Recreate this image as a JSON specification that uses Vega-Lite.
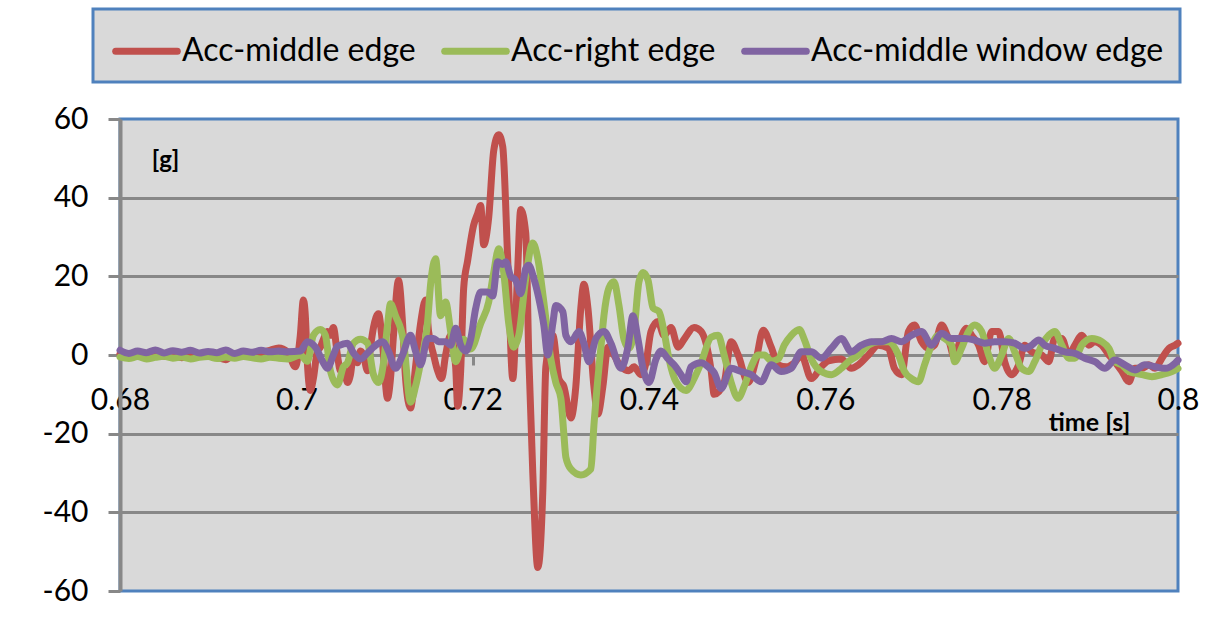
{
  "$schema": "https://vega.github.io/schema/vega-lite/v6.json",
  "width": 1058,
  "height": 472,
  "autosize": {"type": "none"},
  "padding": {"left": 120, "top": 119, "right": 51, "bottom": 46},
  "background": "white",
  "config": {
    "font": "Lato",
    "view": {"fill": "#d9d9d9", "stroke": "#4f81bd", "strokeWidth": 3}
  },
  "encoding": {
    "x": {
      "field": "t", "type": "quantitative",
      "scale": {"domain": [0.68, 0.8], "nice": false, "zero": false},
      "axis": {
        "title": "time [s]", "orient": "bottom", "offset": -236,
        "values": [0.68, 0.7, 0.72, 0.74, 0.76, 0.78, 0.8], "format": ".2~f",
        "grid": false, "labelFlush": false, "labelOverlap": false,
        "domainColor": "#888888", "domainWidth": 3,
        "tickColor": "#888888", "tickWidth": 3, "tickSize": 10,
        "labelFontSize": 30, "labelColor": "black", "labelPadding": 20,
        "titleFontSize": 25, "titleFontWeight": "bold", "titleColor": "black",
        "titleX": 969, "titleY": 67, "titleAlign": "center", "titleBaseline": "middle"
      }
    },
    "y": {
      "field": "v", "type": "quantitative",
      "scale": {"domain": [-60, 60], "nice": false},
      "axis": {
        "title": "[g]", "values": [-60, -40, -20, 0, 20, 40, 60],
        "labelExpr": "toString(datum.value)",
        "grid": true,
        "gridColor": {"condition": {"test": "abs(datum.value) == 60", "value": "transparent"}, "value": "#888888"},
        "gridWidth": 3,
        "domainColor": "#888888", "domainWidth": 4,
        "tickColor": "#888888", "tickWidth": 3, "tickSize": 12,
        "labelFontSize": 30, "labelColor": "black", "labelPadding": 20,
        "titleAngle": 0, "titleX": 45, "titleY": 41, "titleFontSize": 24,
        "titleFontWeight": "bold", "titleColor": "black",
        "titleAlign": "center", "titleBaseline": "middle"
      }
    }
  },
  "layer": [
    {
      "data": {"values": [
        {"t":0.68,"v":0.3},{"t":0.681,"v":-0.4},{"t":0.682,"v":0.2},{"t":0.683,"v":-0.6},{"t":0.684,"v":0.4},{"t":0.685,"v":-0.3},{"t":0.686,"v":0.1},{"t":0.687,"v":-0.7},{"t":0.688,"v":0.3},{"t":0.689,"v":-0.2},{"t":0.69,"v":0.5},{"t":0.691,"v":-0.5},{"t":0.692,"v":-1.2},{"t":0.693,"v":0.2},{"t":0.694,"v":-0.4},{"t":0.695,"v":0.3},{"t":0.696,"v":0.6},{"t":0.697,"v":1.2},{"t":0.698,"v":1.8},{"t":0.699,"v":0.8},
        {"t":0.69989,"v":-3},{"t":0.70045,"v":5},{"t":0.7008,"v":14},{"t":0.70102,"v":10},{"t":0.70125,"v":-2},{"t":0.70159,"v":-9},{"t":0.70193,"v":-6},{"t":0.70239,"v":1},{"t":0.70273,"v":2},{"t":0.70307,"v":4},{"t":0.70352,"v":6},{"t":0.70386,"v":5},{"t":0.7042,"v":7},{"t":0.70466,"v":0},{"t":0.705,"v":-4},{"t":0.70534,"v":-3},{"t":0.7058,"v":-7},{"t":0.70614,"v":-5},{"t":0.70648,"v":0},{"t":0.70693,"v":-2},{"t":0.70727,"v":1},{"t":0.70761,"v":0},{"t":0.70807,"v":-4},{"t":0.70841,"v":2},{"t":0.70875,"v":7},{"t":0.70932,"v":10.5},{"t":0.70977,"v":3},{"t":0.71034,"v":-11},{"t":0.71068,"v":-6},{"t":0.71102,"v":5},{"t":0.71159,"v":19},{"t":0.71205,"v":8},{"t":0.71239,"v":-6},{"t":0.71295,"v":-13.5},{"t":0.71352,"v":-3},{"t":0.71409,"v":8},{"t":0.71466,"v":14},{"t":0.715,"v":6},{"t":0.71557,"v":0},{"t":0.71602,"v":-4},{"t":0.71648,"v":-6},{"t":0.71693,"v":0},{"t":0.7175,"v":5},{"t":0.71807,"v":-3},{"t":0.7183,"v":-13},{"t":0.71864,"v":-4},{"t":0.71898,"v":17},{"t":0.71943,"v":24},{"t":0.72011,"v":33},{"t":0.72057,"v":36},{"t":0.72091,"v":38},{"t":0.72125,"v":28},{"t":0.72182,"v":35},{"t":0.72239,"v":52},{"t":0.72295,"v":56},{"t":0.72341,"v":53},{"t":0.72398,"v":24},{"t":0.72455,"v":-6},{"t":0.72511,"v":22},{"t":0.72545,"v":37},{"t":0.72602,"v":31},{"t":0.72636,"v":0},{"t":0.72682,"v":-30},{"t":0.72739,"v":-54},{"t":0.72795,"v":-35},{"t":0.7283,"v":-3},{"t":0.72909,"v":5},{"t":0.72977,"v":-6},{"t":0.73034,"v":-8},{"t":0.73114,"v":-16},{"t":0.7317,"v":-8},{"t":0.73227,"v":12},{"t":0.73261,"v":18},{"t":0.73307,"v":12},{"t":0.73375,"v":-8},{"t":0.7342,"v":-15},{"t":0.73477,"v":-8},{"t":0.73534,"v":2},{"t":0.73602,"v":0},{"t":0.73682,"v":-3},{"t":0.73773,"v":-4},{"t":0.7383,"v":-3},{"t":0.73909,"v":-5},{"t":0.73966,"v":-2},{"t":0.74023,"v":6},{"t":0.74102,"v":8.5},{"t":0.7417,"v":5},{"t":0.7425,"v":7},{"t":0.7433,"v":2},{"t":0.74398,"v":4},{"t":0.74511,"v":7},{"t":0.74591,"v":6},{"t":0.74705,"v":-4},{"t":0.74739,"v":-10},{"t":0.74852,"v":-7},{"t":0.74932,"v":3.4},{"t":0.75011,"v":0},{"t":0.75125,"v":-7},{"t":0.75216,"v":-1},{"t":0.75295,"v":6.3},{"t":0.75386,"v":2},{"t":0.75466,"v":-2.5},{"t":0.75557,"v":-3},{"t":0.75648,"v":-2},{"t":0.75727,"v":0},{"t":0.75841,"v":-6},{"t":0.75955,"v":-3},{"t":0.76034,"v":-1.5},{"t":0.76182,"v":-1},{"t":0.76295,"v":-3.4},{"t":0.76375,"v":-2.5},{"t":0.76489,"v":0},{"t":0.76602,"v":2.5},{"t":0.76716,"v":1.7},{"t":0.76784,"v":-3.4},{"t":0.76864,"v":-5},{"t":0.76943,"v":6},{"t":0.77011,"v":7.6},{"t":0.77091,"v":3.4},{"t":0.7717,"v":1.7},{"t":0.77239,"v":2.5},{"t":0.77318,"v":7.6},{"t":0.77398,"v":4},{"t":0.77466,"v":-0.8},{"t":0.77523,"v":3.4},{"t":0.77602,"v":6.8},{"t":0.77659,"v":5},{"t":0.77739,"v":2.5},{"t":0.77807,"v":-1.7},{"t":0.77886,"v":6},{"t":0.77966,"v":6},{"t":0.78034,"v":-1.7},{"t":0.78114,"v":-5},{"t":0.78193,"v":-2.5},{"t":0.78261,"v":2.5},{"t":0.78341,"v":0.8},{"t":0.78455,"v":0},{"t":0.78534,"v":-1.7},{"t":0.78602,"v":4.2},{"t":0.78682,"v":4.2},{"t":0.78761,"v":0},{"t":0.7883,"v":2.5},{"t":0.78909,"v":5},{"t":0.78989,"v":2.5},{"t":0.79057,"v":3.4},{"t":0.79136,"v":2.5},{"t":0.79216,"v":0},{"t":0.79284,"v":-1.7},{"t":0.79364,"v":-4.2},{"t":0.79443,"v":-6.8},{"t":0.79511,"v":-3.4},{"t":0.79591,"v":-3.4},{"t":0.7967,"v":-2.5},{"t":0.79739,"v":-3.4},{"t":0.79818,"v":-0.8},{"t":0.79898,"v":1.7},{"t":0.79966,"v":2.5},{"t":0.8,"v":3}
      ]},
      "mark": {"type": "line", "strokeWidth": 7, "interpolate": "monotone", "strokeJoin": "round", "strokeCap": "round"},
      "encoding": {
        "color": {
          "datum": "Acc-middle edge", "type": "nominal",
          "scale": {"domain": ["Acc-middle edge", "Acc-right edge", "Acc-middle window edge"], "range": ["#c0504d", "#9bbb59", "#8064a2"]},
          "legend": {
            "orient": "none", "legendX": -27, "legendY": -110, "direction": "horizontal", "title": null,
            "fillColor": "#d9d9d9", "strokeColor": "#4f81bd", "padding": 15,
            "symbolType": "M-0.7,0H3.7", "symbolSize": 784, "symbolStrokeWidth": 7,
            "labelFontSize": 32, "labelColor": "black", "labelOffset": 39, "columnPadding": 14, "labelLimit": 600,
            "encode": {
              "legend": {"update": {"strokeWidth": {"value": 3}}},
              "labels": {"update": {"dy": {"value": 9}}},
              "symbols": {"update": {"strokeCap": {"value": "round"}, "y": {"value": 27}}}
            }
          }
        }
      }
    },
    {
      "data": {"values": [
        {"t":0.68,"v":-0.5},{"t":0.681,"v":-0.9},{"t":0.682,"v":-0.4},{"t":0.683,"v":-1.0},{"t":0.684,"v":-0.6},{"t":0.685,"v":-0.3},{"t":0.686,"v":-0.8},{"t":0.687,"v":-0.5},{"t":0.688,"v":-1.0},{"t":0.689,"v":-0.6},{"t":0.69,"v":-0.4},{"t":0.691,"v":-0.9},{"t":0.692,"v":-0.5},{"t":0.693,"v":-0.8},{"t":0.694,"v":-0.4},{"t":0.695,"v":-0.7},{"t":0.696,"v":-1.0},{"t":0.697,"v":-0.6},{"t":0.698,"v":-0.8},{"t":0.699,"v":-1},
        {"t":0.70045,"v":0},{"t":0.70125,"v":-1.6},{"t":0.70193,"v":5},{"t":0.70273,"v":6.5},{"t":0.7033,"v":5},{"t":0.70386,"v":-4},{"t":0.70466,"v":-7.6},{"t":0.70534,"v":-3},{"t":0.7058,"v":-2},{"t":0.70648,"v":3},{"t":0.70727,"v":4},{"t":0.70807,"v":3},{"t":0.70875,"v":-5},{"t":0.70932,"v":-7},{"t":0.70989,"v":-2},{"t":0.71034,"v":7.5},{"t":0.71068,"v":13},{"t":0.71125,"v":10},{"t":0.71216,"v":3.5},{"t":0.71295,"v":-12},{"t":0.71352,"v":-8},{"t":0.71409,"v":-2},{"t":0.71489,"v":8.5},{"t":0.71523,"v":18},{"t":0.7158,"v":24.5},{"t":0.71636,"v":10},{"t":0.71693,"v":13.5},{"t":0.7175,"v":6},{"t":0.71807,"v":-1.7},{"t":0.71898,"v":4},{"t":0.71977,"v":1.5},{"t":0.72091,"v":8},{"t":0.72182,"v":13.5},{"t":0.72239,"v":21},{"t":0.72295,"v":27},{"t":0.72352,"v":21},{"t":0.72409,"v":8},{"t":0.72466,"v":2},{"t":0.72523,"v":5},{"t":0.72602,"v":19.5},{"t":0.72682,"v":28.5},{"t":0.72739,"v":24.5},{"t":0.72807,"v":13.5},{"t":0.72886,"v":-1},{"t":0.72943,"v":-7},{"t":0.73,"v":-11},{"t":0.73034,"v":-20},{"t":0.73057,"v":-26},{"t":0.73114,"v":-29},{"t":0.73227,"v":-30.5},{"t":0.73341,"v":-29},{"t":0.73375,"v":-18},{"t":0.7342,"v":-6},{"t":0.73455,"v":2},{"t":0.73489,"v":10},{"t":0.73545,"v":17},{"t":0.73602,"v":18.6},{"t":0.73659,"v":12.6},{"t":0.73716,"v":4},{"t":0.73773,"v":1.7},{"t":0.7383,"v":6},{"t":0.73886,"v":18.6},{"t":0.73932,"v":21},{"t":0.73989,"v":19},{"t":0.74045,"v":12},{"t":0.74114,"v":11},{"t":0.7417,"v":6},{"t":0.74227,"v":-1},{"t":0.74307,"v":-6.8},{"t":0.7442,"v":-9},{"t":0.74511,"v":-6},{"t":0.74591,"v":-2},{"t":0.74705,"v":4.5},{"t":0.74784,"v":5},{"t":0.74852,"v":0},{"t":0.74932,"v":-7},{"t":0.75011,"v":-11},{"t":0.7508,"v":-8},{"t":0.75159,"v":-3},{"t":0.75239,"v":0},{"t":0.75307,"v":0},{"t":0.75386,"v":-1.5},{"t":0.75466,"v":-1},{"t":0.75534,"v":2.5},{"t":0.75614,"v":5},{"t":0.75705,"v":6.5},{"t":0.75761,"v":4},{"t":0.75841,"v":-1},{"t":0.75955,"v":-4.2},{"t":0.76068,"v":-5},{"t":0.76182,"v":-3.4},{"t":0.76261,"v":-1.7},{"t":0.76375,"v":0},{"t":0.76489,"v":2.5},{"t":0.76602,"v":3.4},{"t":0.76716,"v":3.4},{"t":0.7683,"v":0},{"t":0.76898,"v":-4.2},{"t":0.76977,"v":-6},{"t":0.77057,"v":-6.8},{"t":0.77125,"v":-2.5},{"t":0.77205,"v":2.5},{"t":0.77284,"v":5},{"t":0.77352,"v":4.2},{"t":0.77432,"v":2.5},{"t":0.77466,"v":-1.7},{"t":0.77545,"v":1.7},{"t":0.77625,"v":6},{"t":0.77693,"v":7.6},{"t":0.77773,"v":6},{"t":0.77852,"v":0},{"t":0.7792,"v":-3.4},{"t":0.78,"v":0},{"t":0.7808,"v":4.2},{"t":0.78148,"v":0.8},{"t":0.78227,"v":-3.4},{"t":0.78307,"v":-4.2},{"t":0.78375,"v":-1.7},{"t":0.78455,"v":2.5},{"t":0.78534,"v":5},{"t":0.78602,"v":6},{"t":0.78682,"v":2.5},{"t":0.78761,"v":-0.8},{"t":0.7883,"v":-0.8},{"t":0.78909,"v":2.5},{"t":0.79023,"v":4.2},{"t":0.79136,"v":3.4},{"t":0.79216,"v":1.7},{"t":0.79284,"v":-1.7},{"t":0.79364,"v":-2.5},{"t":0.79443,"v":-4.2},{"t":0.79511,"v":-4.6},{"t":0.79591,"v":-5},{"t":0.79705,"v":-5.5},{"t":0.79818,"v":-5},{"t":0.79932,"v":-4.2},{"t":0.8,"v":-3.4}
      ]},
      "mark": {"type": "line", "strokeWidth": 7, "interpolate": "monotone", "strokeJoin": "round", "strokeCap": "round"},
      "encoding": {"color": {"datum": "Acc-right edge", "type": "nominal"}}
    },
    {
      "data": {"values": [
        {"t":0.68,"v":1.2},{"t":0.681,"v":0.4},{"t":0.682,"v":1.0},{"t":0.683,"v":0.6},{"t":0.684,"v":1.3},{"t":0.685,"v":0.5},{"t":0.686,"v":1.1},{"t":0.687,"v":0.7},{"t":0.688,"v":1.2},{"t":0.689,"v":0.5},{"t":0.69,"v":0.9},{"t":0.691,"v":0.6},{"t":0.692,"v":1.3},{"t":0.693,"v":0.4},{"t":0.694,"v":1.0},{"t":0.695,"v":0.7},{"t":0.696,"v":1.2},{"t":0.697,"v":0.8},{"t":0.698,"v":1.0},{"t":0.699,"v":0.8},
        {"t":0.70045,"v":1},{"t":0.70125,"v":3.4},{"t":0.70216,"v":2},{"t":0.70307,"v":-2},{"t":0.70352,"v":-3.4},{"t":0.7042,"v":0},{"t":0.70466,"v":2.2},{"t":0.70534,"v":2.8},{"t":0.7058,"v":3},{"t":0.70648,"v":0.5},{"t":0.70727,"v":-1},{"t":0.70807,"v":0.5},{"t":0.70875,"v":2},{"t":0.70977,"v":3.4},{"t":0.71045,"v":1},{"t":0.71125,"v":-3.4},{"t":0.71205,"v":0},{"t":0.71295,"v":5},{"t":0.71352,"v":1},{"t":0.71409,"v":-2.5},{"t":0.71489,"v":4.2},{"t":0.71557,"v":4.2},{"t":0.71614,"v":3.4},{"t":0.71693,"v":3.4},{"t":0.7175,"v":2.5},{"t":0.71807,"v":6.8},{"t":0.71864,"v":2.5},{"t":0.7192,"v":1},{"t":0.71977,"v":4},{"t":0.72034,"v":11.8},{"t":0.72091,"v":16},{"t":0.7217,"v":16},{"t":0.72227,"v":15},{"t":0.72284,"v":23.7},{"t":0.72341,"v":23},{"t":0.72375,"v":23.7},{"t":0.72432,"v":20},{"t":0.72489,"v":19},{"t":0.72545,"v":15.6},{"t":0.72602,"v":22},{"t":0.72636,"v":22.8},{"t":0.72693,"v":19.5},{"t":0.7275,"v":14.4},{"t":0.72807,"v":7.6},{"t":0.72852,"v":0},{"t":0.72909,"v":8},{"t":0.72943,"v":12.6},{"t":0.73023,"v":11},{"t":0.73057,"v":5},{"t":0.73114,"v":3.4},{"t":0.73205,"v":6},{"t":0.73261,"v":3},{"t":0.73318,"v":-1.7},{"t":0.73398,"v":4.2},{"t":0.73489,"v":6},{"t":0.73568,"v":3},{"t":0.73682,"v":-3.4},{"t":0.73761,"v":2},{"t":0.73818,"v":10},{"t":0.73875,"v":4},{"t":0.73932,"v":-3.4},{"t":0.74,"v":-7},{"t":0.7408,"v":-1},{"t":0.74136,"v":1},{"t":0.74216,"v":-1},{"t":0.74284,"v":-2.5},{"t":0.74364,"v":-5},{"t":0.7442,"v":-6.8},{"t":0.74477,"v":-3},{"t":0.74591,"v":-2},{"t":0.7467,"v":-3},{"t":0.74739,"v":-4.5},{"t":0.74818,"v":-8.5},{"t":0.74932,"v":-3.4},{"t":0.75045,"v":-4.2},{"t":0.75159,"v":-5},{"t":0.75273,"v":-6.8},{"t":0.75386,"v":-2.5},{"t":0.755,"v":-4.2},{"t":0.75614,"v":-3.4},{"t":0.75727,"v":0.8},{"t":0.75841,"v":0.8},{"t":0.75955,"v":-0.8},{"t":0.76068,"v":1.7},{"t":0.76182,"v":4.2},{"t":0.76295,"v":0.8},{"t":0.76409,"v":2.5},{"t":0.76523,"v":3.4},{"t":0.76636,"v":3.4},{"t":0.7675,"v":4.2},{"t":0.76864,"v":3.4},{"t":0.76977,"v":5},{"t":0.77091,"v":6},{"t":0.77205,"v":2.5},{"t":0.77318,"v":5.5},{"t":0.77432,"v":4.2},{"t":0.7758,"v":4.2},{"t":0.77693,"v":3.8},{"t":0.77807,"v":3},{"t":0.7792,"v":3.4},{"t":0.78034,"v":3.4},{"t":0.78148,"v":3},{"t":0.78261,"v":1.7},{"t":0.78341,"v":2.5},{"t":0.7842,"v":3.8},{"t":0.78489,"v":2.5},{"t":0.78602,"v":1.7},{"t":0.78716,"v":0.8},{"t":0.7883,"v":0.4},{"t":0.78943,"v":-0.8},{"t":0.79057,"v":-1.7},{"t":0.7917,"v":-3.4},{"t":0.79284,"v":-1.3},{"t":0.79398,"v":-2.5},{"t":0.79511,"v":-3.8},{"t":0.79625,"v":-2.5},{"t":0.79739,"v":-3},{"t":0.79852,"v":-3.4},{"t":0.79966,"v":-2.1},{"t":0.8,"v":-1.3}
      ]},
      "mark": {"type": "line", "strokeWidth": 7, "interpolate": "monotone", "strokeJoin": "round", "strokeCap": "round"},
      "encoding": {"color": {"datum": "Acc-middle window edge", "type": "nominal"}}
    }
  ]
}
